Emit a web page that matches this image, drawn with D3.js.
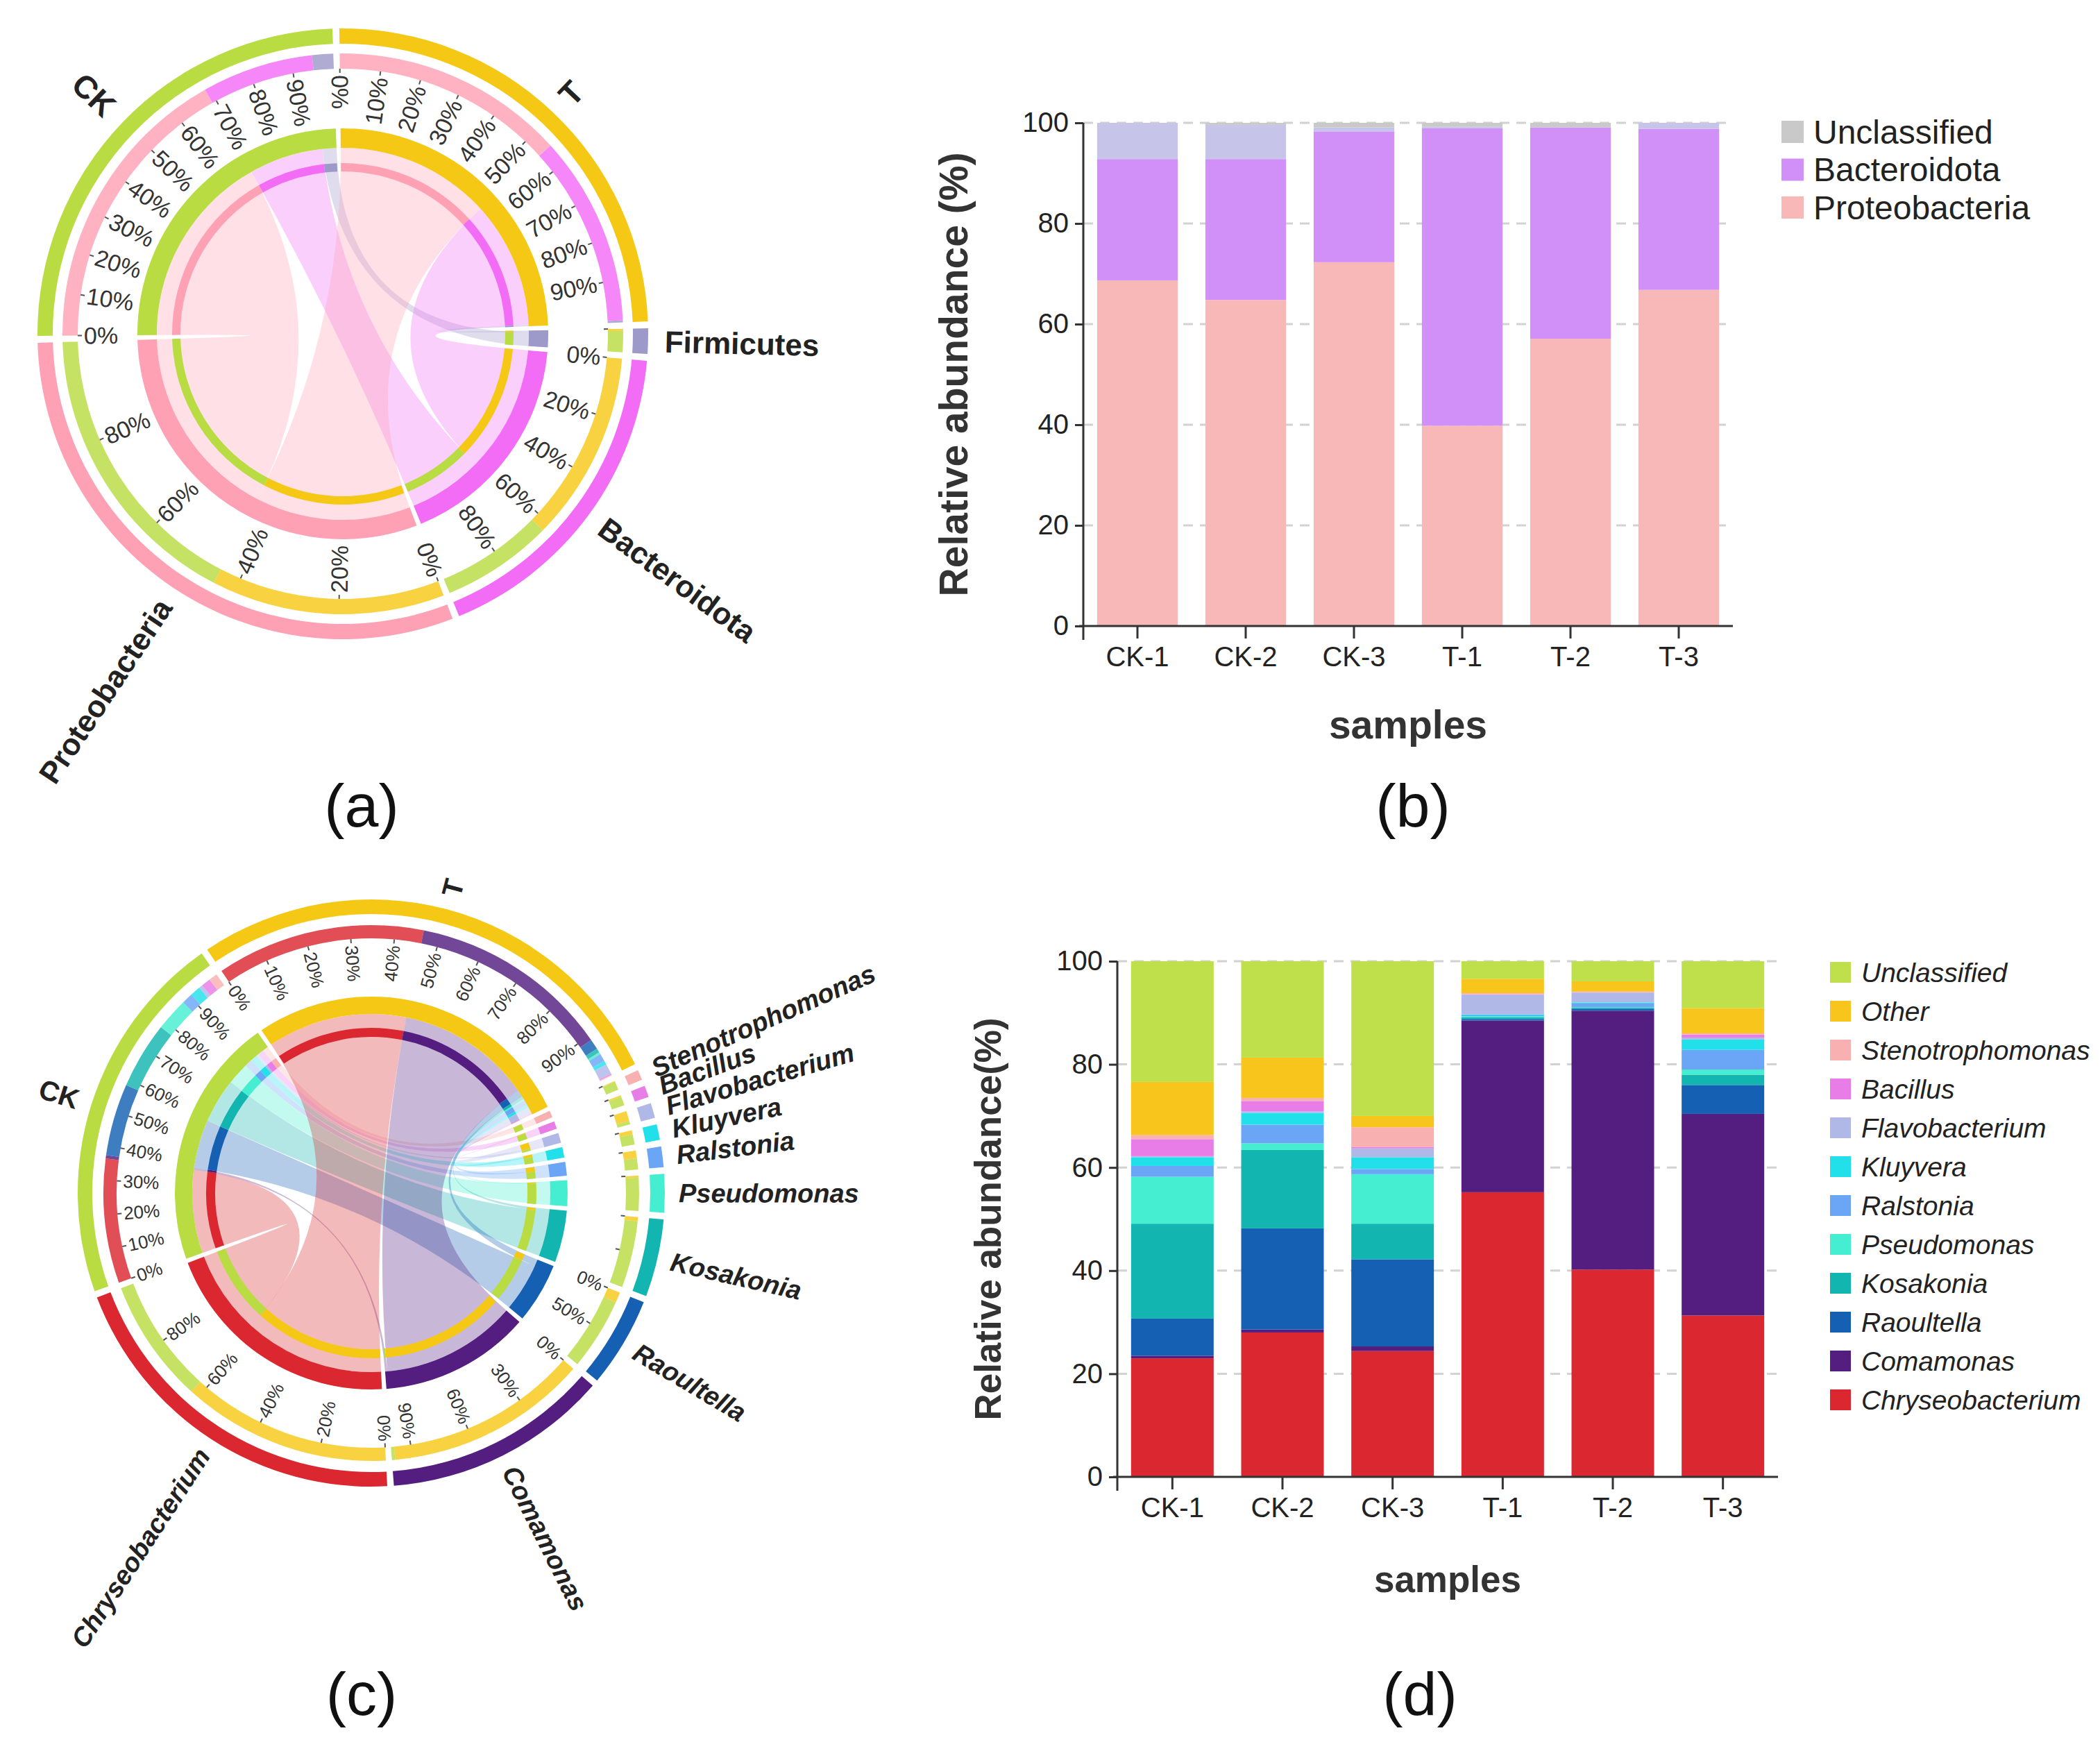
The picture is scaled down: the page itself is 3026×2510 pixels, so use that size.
<!DOCTYPE html>
<html><head><meta charset="utf-8">
<script src="https://cdn.jsdelivr.net/npm/d3@7"></script>
<style>
body{margin:0;background:#fff}
svg{display:block}
text{font-family:Arial,"Liberation Sans",sans-serif}
</style>
</head><body>
<svg id="c" width="3026" height="2510" viewBox="0 0 3026 2510"></svg>
<script>
// ================= DATA =================
const samples = ["CK-1","CK-2","CK-3","T-1","T-2","T-3"];
const groups = ["CK","T"];
const yTicks = [0,20,40,60,80,100];

// Phylum level (panel a, b) – relative abundance (%)
const phylumKeys = ["Proteobacteria","Bacteroidota","Firmicutes","Unclassified"];
const proteobacteria     = [68.7,64.8,72.3,39.8,57.1,66.8];
const bacteroidota       = [24.1,28.0,26.0,59.1,42.0,32.0];
const firmicutes         = [7.2,6.8,0.8,0.3,0.0,1.2];
const unclassifiedPhylum = [0.0,0.4,0.9,0.8,0.9,0.0];
const phylumLegend = ["Unclassified","Bacteroidota","Proteobacteria"];

// Genus level (panel c, d)
const genusKeys = ["Chryseobacterium","Comamonas","Raoultella","Kosakonia","Pseudomonas","Ralstonia","Kluyvera","Flavobacterium","Bacillus","Stenotrophomonas","Other","Unclassified"];
const chryseobacterium = [23.0,28.0,24.4,55.2,40.2,31.3];
const comamonas        = [0.5,0.6,0.9,33.3,50.2,39.1];
const raoultella       = [7.2,19.6,16.9,0.3,0.4,5.6];
const kosakonia        = [18.4,15.2,6.9,0.3,0.2,2.0];
const pseudomonas      = [9.1,1.3,9.6,0.2,0.1,1.0];
const ralstonia        = [2.1,3.6,1.0,0.2,0.7,3.8];
const kluyvera         = [1.7,2.3,2.3,0.2,0.2,2.0];
const flavobacterium   = [0.2,0.3,1.7,3.8,1.9,0.4];
const bacillus         = [3.3,2.0,0.3,0.1,0.1,0.6];
const stenotrophomonas = [0.8,0.6,3.8,0.2,0.1,0.2];
const otherGenus       = [10.3,7.8,2.2,2.8,2.0,4.9];
const unclassifiedGenus= [23.4,18.7,30.0,3.4,3.9,9.1];
const genusLegend = genusKeys.slice().reverse();

// chord taxa (bar order) and tick steps (%), label flags
const chordATaxa = ["Proteobacteria","Bacteroidota","Firmicutes"];
const chordATickStep = {CK:10, T:10, Proteobacteria:20, Bacteroidota:20, Firmicutes:100};
const chordATickLabel = {CK:true, T:true, Proteobacteria:true, Bacteroidota:true, Firmicutes:false};
const chordCTaxa = genusKeys.slice(0,10);
const chordCTickStep = {CK:10, T:10, Chryseobacterium:20, Comamonas:30, Raoultella:50, Kosakonia:50,
  Pseudomonas:100, Ralstonia:100, Kluyvera:100, Flavobacterium:100, Bacillus:100, Stenotrophomonas:100};
const chordCTickLabel = {CK:true, T:true, Chryseobacterium:true, Comamonas:true, Raoultella:true};

// ================= STYLES =================
const colA = {CK:"#b9dc43", T:"#f6c816", Proteobacteria:"#ffa1b5", Bacteroidota:"#f36cf6", Firmicutes:"#9d99c9"};
const colB = {Proteobacteria:"#f9b8b8", Bacteroidota:"#d18ff8", Firmicutes:"#c6c4e9", Unclassified:"#c9c9c9"};
const colD = {Unclassified:"#bfe04a", Other:"#f7c51b", Stenotrophomonas:"#f9b0b0", Bacillus:"#e87de8",
  Flavobacterium:"#b0b8e8", Kluyvera:"#22e0ea", Ralstonia:"#6aa6f5", Pseudomonas:"#45eed0",
  Kosakonia:"#12b5b0", Raoultella:"#1560b3", Comamonas:"#531e80", Chryseobacterium:"#da2730"};
const colC = Object.assign({CK:"#b9dc43", T:"#f6c816"}, colD);

const svg = d3.select("#c");
const deg = Math.PI/180;
const norm = a => ((a % 360) + 360) % 360;

// ================= CHORD =================
function drawChord(cfg){
  const g = svg.append("g").attr("transform", `translate(${cfg.cx},${cfg.cy})`);
  const taxa = cfg.taxa;
  const val = {};
  groups.forEach((gr, gi) => {
    val[gr] = {};
    taxa.forEach((t, ti) => { val[gr][t] = d3.mean(cfg.series[ti].slice(gi*3, gi*3+3)); });
  });
  const order = ["T", ...taxa.slice().reverse(), "CK"];
  const total = {};
  groups.forEach(gr => total[gr] = d3.sum(taxa, t => val[gr][t]));
  taxa.forEach(t => total[t] = d3.sum(groups, gr => val[gr][t]));
  const sumAll = d3.sum(order, s => total[s]);
  const k = (360 - order.length*cfg.gap) / sumAll;
  const sec = {};
  let a = cfg.start;
  order.forEach(s => { sec[s] = {a0:a, a1:a + total[s]*k}; a = sec[s].a1 + cfg.gap; });
  const sub = {};
  const subs = [];
  groups.forEach(gr => {
    let x = sec[gr].a0;
    taxa.forEach(t => { const w = val[gr][t]*k; const o = {sector:gr, other:t, a0:x, a1:x+w}; sub[gr+"|"+t]=o; subs.push(o); x += w; });
  });
  taxa.forEach(t => {
    let x = sec[t].a0;
    ["T","CK"].forEach(gr => { const w = val[gr][t]*k; const o = {sector:t, other:gr, a0:x, a1:x+w}; sub[t+"|"+gr]=o; subs.push(o); x += w; });
  });
  const R = cfg.r;
  const arc = d3.arc();
  const ring = (o, ri, ro) => arc({innerRadius:ri, outerRadius:ro, startAngle:o.a0*deg, endAngle:o.a1*deg});

  // ribbons
  const ribbon = d3.ribbon().radius(R.rib);
  const ribs = [];
  groups.forEach(gr => taxa.forEach(t => {
    const s = sub[gr+"|"+t], tg = sub[t+"|"+gr];
    if (s.a1 - s.a0 <= 0) return;
    ribs.push({t, d: ribbon({source:{startAngle:s.a0*deg, endAngle:s.a1*deg}, target:{startAngle:tg.a0*deg, endAngle:tg.a1*deg}})});
  }));
  g.append("g").selectAll("path").data(ribs).join("path")
    .attr("d", d => d.d).attr("fill", d => cfg.col[d.t]).attr("fill-opacity", cfg.ribOpacity);

  // thin inner composition ring
  g.append("g").selectAll("path").data(subs).join("path")
    .attr("d", o => ring(o, R.thin[0], R.thin[1])).attr("fill", o => cfg.col[o.other]);
  // thick inner ring
  g.append("g").selectAll("path").data(order).join("path")
    .attr("d", s => ring(sec[s], R.thick[0], R.thick[1])).attr("fill", s => cfg.col[s]);
  // middle composition ring
  g.append("g").selectAll("path").data(subs).join("path")
    .attr("d", o => ring(o, R.mid[0], R.mid[1])).attr("fill", o => cfg.col[o.other]).attr("fill-opacity", 0.82);
  // outer ring
  g.append("g").selectAll("path").data(order).join("path")
    .attr("d", s => ring(sec[s], R.out[0], R.out[1])).attr("fill", s => cfg.col[s]);

  // ticks
  const ticks = [];
  order.forEach(s => {
    const step = cfg.tickStep[s];
    for (let v = 0; v < 99.999; v += step) {
      ticks.push({s, v, ang: sec[s].a0 + (sec[s].a1 - sec[s].a0)*v/100, lab: !!cfg.tickLabel[s]});
    }
  });
  const tg = g.append("g");
  tg.selectAll("line").data(ticks).join("line")
    .attr("transform", d => `rotate(${d.ang-90})`)
    .attr("x1", R.mid[0]).attr("x2", R.mid[0]-cfg.tickLen).attr("y1",0).attr("y2",0)
    .attr("stroke", "#555").attr("stroke-width", 2);
  tg.selectAll("text").data(ticks.filter(d => d.lab)).join("text")
    .attr("transform", d => {
      const right = norm(d.ang) < 180;
      return `rotate(${d.ang-90}) translate(${R.mid[0]-cfg.tickLen-3},0)` + (right ? "" : " rotate(180)");
    })
    .attr("text-anchor", d => norm(d.ang) < 180 ? "end" : "start")
    .attr("dominant-baseline", "central")
    .attr("font-size", cfg.tickFont).attr("fill", "#333")
    .text(d => d.v + "%");

  // sector names
  g.append("g").selectAll("text").data(order).join("text")
    .attr("transform", s => {
      const m = (sec[s].a0 + sec[s].a1)/2;
      const right = norm(m) < 180;
      return `rotate(${m-90}) translate(${R.name},0)` + (right ? "" : " rotate(180)");
    })
    .attr("text-anchor", s => norm((sec[s].a0 + sec[s].a1)/2) < 180 ? "start" : "end")
    .attr("dominant-baseline", "central")
    .attr("font-size", s => groups.includes(s) ? cfg.groupFont : cfg.nameFont)
    .attr("font-weight", "bold")
    .attr("font-style", s => (cfg.italic && !groups.includes(s)) ? "italic" : "normal")
    .attr("fill", "#222")
    .text(s => s);
}

drawChord({
  cx:494, cy:481, start:-0.65, gap:1.3,
  taxa: chordATaxa, series:[proteobacteria, bacteroidota, firmicutes],
  col: colA, ribOpacity:0.33,
  r: {out:[418,440], mid:[382,404], thick:[268,296], thin:[234,246], rib:268, name:464},
  tickStep: chordATickStep, tickLabel: chordATickLabel, tickLen:6,
  tickFont:34, nameFont:44, groupFont:46, italic:false
});

drawChord({
  cx:535, cy:1719, start:-34, gap:1.3,
  taxa: chordCTaxa,
  series:[chryseobacterium, comamonas, raoultella, kosakonia, pseudomonas, ralstonia, kluyvera, flavobacterium, bacillus, stenotrophomonas],
  col: colC, ribOpacity:0.32,
  r: {out:[402,423], mid:[367,386], thick:[258,283], thin:[225,238], rib:258, name:443},
  tickStep: chordCTickStep, tickLabel: chordCTickLabel, tickLen:6,
  tickFont:26, nameFont:38, groupFont:40, italic:true
});

// ================= BARS =================
function drawBars(cfg){
  const g = svg.append("g");
  const x = d3.scaleBand().domain(samples).range([cfg.x0, cfg.x1]).paddingInner(cfg.pad).paddingOuter(cfg.pad/2);
  const y = d3.scaleLinear().domain([0,100]).range([cfg.y0, cfg.y1]);
  // grid
  g.append("g").selectAll("line").data(yTicks.filter(v => v > 0)).join("line")
    .attr("x1", cfg.x0).attr("x2", cfg.x1).attr("y1", d => y(d)).attr("y2", d => y(d))
    .attr("stroke", "#d2d2d2").attr("stroke-width", 3).attr("stroke-dasharray", "14,10");
  // stacked bars
  const rows = samples.map((s, i) => { const o = {sample:s}; cfg.keys.forEach((kk, ki) => o[kk] = cfg.series[ki][i]); return o; });
  const stack = d3.stack().keys(cfg.keys)(rows);
  g.append("g").selectAll("g").data(stack).join("g").attr("fill", d => cfg.col[d.key])
    .selectAll("rect").data(d => d).join("rect")
    .attr("x", d => x(d.data.sample)).attr("width", x.bandwidth())
    .attr("y", d => y(Math.min(100, d[1]))).attr("height", d => Math.max(0, y(d[0]) - y(Math.min(100, d[1]))));
  // axes
  const ya = g.append("g").attr("transform", `translate(${cfg.x0},0)`)
    .call(d3.axisLeft(y).tickValues(yTicks).tickSize(12).tickPadding(9).tickSizeOuter(0));
  ya.select(".domain").remove();
  ya.selectAll("line").attr("stroke", "#333").attr("stroke-width", 3);
  ya.selectAll("text").attr("font-size", cfg.tickFont).attr("fill", "#222");
  const xa = g.append("g").attr("transform", `translate(0,${cfg.y0})`)
    .call(d3.axisBottom(x).tickSize(18).tickPadding(12).tickSizeOuter(0));
  xa.select(".domain").remove();
  xa.selectAll("line").attr("stroke", "#333").attr("stroke-width", 3);
  xa.selectAll("text").attr("font-size", cfg.tickFont).attr("fill", "#222");
  g.append("line").attr("x1", cfg.x0).attr("x2", cfg.x0).attr("y1", y(100)).attr("y2", cfg.y0 + 20)
    .attr("stroke", "#333").attr("stroke-width", 3);
  g.append("line").attr("x1", cfg.x0 - 6).attr("x2", cfg.x1).attr("y1", cfg.y0).attr("y2", cfg.y0)
    .attr("stroke", "#333").attr("stroke-width", 3);
  // titles
  g.append("text").attr("x", (cfg.x0 + cfg.x1)/2).attr("y", cfg.xTitleY)
    .attr("text-anchor", "middle").attr("dominant-baseline", "central")
    .attr("font-size", cfg.titleFont).attr("font-weight", "bold").attr("fill", "#333").text("samples");
  g.append("text").attr("transform", `translate(${cfg.yTitleX},${(cfg.y0 + cfg.y1)/2}) rotate(-90)`)
    .attr("text-anchor", "middle").attr("dominant-baseline", "central")
    .attr("font-size", cfg.titleFont).attr("font-weight", "bold").attr("fill", "#333").text(cfg.yTitle);
  // legend
  const lg = g.append("g").selectAll("g").data(cfg.legend).join("g")
    .attr("transform", (d, i) => `translate(${cfg.legX},${cfg.legY + i*cfg.legStep})`);
  lg.append("rect").attr("x", 0).attr("y", -cfg.legSq/2).attr("width", cfg.legSq).attr("height", cfg.legSq)
    .attr("fill", d => cfg.col[d]);
  lg.append("text").attr("x", cfg.legSq + cfg.legGap).attr("y", 0).attr("dominant-baseline", "central")
    .attr("font-size", cfg.legFont).attr("font-style", cfg.legItalic ? "italic" : "normal")
    .attr("fill", "#222").text(d => d);
}

drawBars({
  x0:1561, x1:2497, y0:902, y1:177, pad:0.255,
  keys: phylumKeys, series:[proteobacteria, bacteroidota, firmicutes, unclassifiedPhylum], col: colB,
  tickFont:40, titleFont:57, xTitleY:1044, yTitleX:1374, yTitle:"Relative abundance (%)",
  legend: phylumLegend, legX:2567, legY:190, legStep:54.5, legSq:32, legGap:14, legFont:48, legItalic:false
});

drawBars({
  x0:1610, x1:2562, y0:2128, y1:1385, pad:0.25,
  keys: genusKeys,
  series:[chryseobacterium, comamonas, raoultella, kosakonia, pseudomonas, ralstonia, kluyvera, flavobacterium, bacillus, stenotrophomonas, otherGenus, unclassifiedGenus],
  col: colD, tickFont:40, titleFont:53, xTitleY:2275, yTitleX:1423, yTitle:"Relative abundance(%)",
  legend: genusLegend, legX:2637, legY:1401, legStep:56.0, legSq:30, legGap:15, legFont:39, legItalic:true
});

// panel letters
const panelLetters = [["(a)",521,1160],["(b)",2036,1160],["(c)",521,2440],["(d)",2046,2440]];
svg.append("g").selectAll("text").data(panelLetters).join("text")
  .attr("x", d => d[1]).attr("y", d => d[2]).attr("text-anchor", "middle").attr("dominant-baseline", "central")
  .attr("font-size", 88).attr("fill", "#111").text(d => d[0]);
</script>
</body></html>
